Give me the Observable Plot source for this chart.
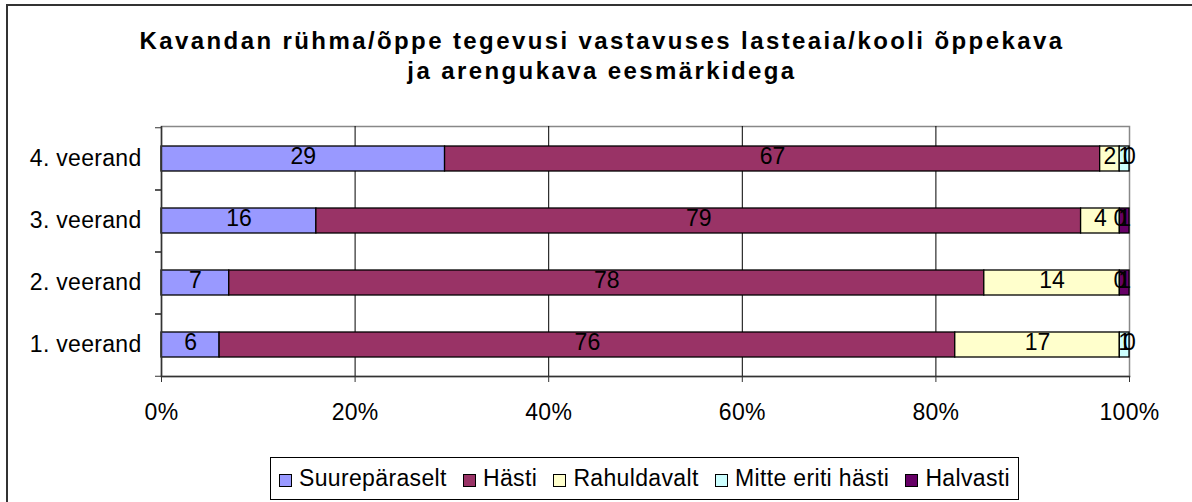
<!DOCTYPE html>
<html>
<head>
<meta charset="utf-8">
<script src="https://cdn.jsdelivr.net/npm/d3@7"></script>
<script src="https://cdn.jsdelivr.net/npm/@observablehq/plot@0.6"></script>
<style>
  body { margin: 0; background: #fff; }
  #wrap { position: relative; width: 1192px; height: 502px; overflow: hidden; font-family: "Liberation Sans", Arial, sans-serif; background: #fff; }
  #border { position: absolute; left: 6px; top: 4px; width: 1220px; height: 530px; border: 2px solid #333; box-sizing: border-box; }
  #title { position: absolute; left: 6px; width: 1192px; top: 26px; text-align: center; font-weight: bold; font-size: 24px; letter-spacing: 2.4px; line-height: 30px; color: #000; }
  #chart { position: absolute; left: 0; top: 0; }
  #chart svg g[aria-label="y-axis tick label"] text { letter-spacing: 0.3px; }
  #chart svg g[aria-label="x-axis tick label"] text { letter-spacing: 0.3px; }
  #legend { position: absolute; left: 270px; top: 457px; width: 749px; height: 43px; border: 1px solid #000; box-sizing: border-box; display: flex; align-items: center; justify-content: space-between; padding: 0 8px 0 8px; font-size: 23px; letter-spacing: 0.35px; background: #fff; }
  .item { display: flex; align-items: center; white-space: nowrap; }
  .sw { width: 11px; height: 11px; border: 1.5px solid #000; margin-right: 7px; margin-top: 3px; }
</style>
</head>
<body>
<div id="wrap">
  <div id="border"></div>
  <div id="title">Kavandan rühma/õppe tegevusi vastavuses lasteaia/kooli õppekava<br>ja arengukava eesmärkidega</div>
  <div id="chart"></div>
  <div id="legend"></div>
</div>
<script>
const quarters = ["4. veerand", "3. veerand", "2. veerand", "1. veerand"];
const categories = ["Suurepäraselt", "Hästi", "Rahuldavalt", "Mitte eriti hästi", "Halvasti"];
const colors = ["#9999FF", "#993366", "#FFFFCC", "#CCFFFF", "#660066"];

const suureparaselt = [29, 16, 7, 6];
const hasti = [67, 79, 78, 76];
const rahuldavalt = [2, 4, 14, 17];
const mitteEritiHasti = [1, 0, 0, 1];
const halvasti = [0, 1, 1, 0];

const xTicks = [0, 0.2, 0.4, 0.6, 0.8, 1];
const gridTicks = [0.2, 0.4, 0.6, 0.8];

const series = [suureparaselt, hasti, rahuldavalt, mitteEritiHasti, halvasti];
const data = [];
quarters.forEach((q, qi) => {
  categories.forEach((c, ci) => {
    data.push({quarter: q, cat: c, value: series[ci][qi]});
  });
});

const stackOpts = {offset: "normalize", x: "value", y: "quarter", z: "cat"};
const halfStep = 250 / quarters.length / 2;

const plot = Plot.plot({
  width: 1192,
  height: 502,
  marginLeft: 161,
  marginRight: 63,
  marginTop: 126,
  marginBottom: 126,
  style: {fontFamily: "'Liberation Sans', Arial, sans-serif", background: "transparent", color: "#000"},
  x: {domain: [0, 1]},
  y: {domain: quarters, paddingInner: 0.6, paddingOuter: 0.3},
  color: {domain: categories, range: colors},
  marks: [
    Plot.frame({stroke: "#888", strokeWidth: 1.5}),
    Plot.gridX(gridTicks, {stroke: "#000", strokeOpacity: 1, strokeWidth: 1}),
    Plot.barX(data, Plot.stackX({...stackOpts, fill: "cat", stroke: "#000", strokeWidth: 1.3})),
    Plot.text(data, Plot.stackX({...stackOpts, text: d => String(d.value), fill: "#000", fontSize: 23, dy: -2})),
    Plot.ruleX([0], {stroke: "#333", strokeWidth: 1.5}),
    Plot.frame({anchor: "bottom", stroke: "#333", strokeWidth: 1.5}),
    Plot.axisX({ticks: xTicks, tickFormat: d3.format(".0%"), tickSize: 6, tickPadding: 21, fontSize: 23, stroke: "#333", label: null}),
    Plot.axisY({tickSize: 6, dy: -halfStep, text: null, stroke: "#333", label: null}),
    Plot.axisY({tickSize: 6, dy: halfStep, text: null, stroke: "#333", label: null}),
    Plot.axisY({tickSize: 0, tickPadding: 20, fontSize: 23, label: null})
  ]
});
document.getElementById("chart").appendChild(plot);

const legend = document.getElementById("legend");
categories.forEach((c, i) => {
  const item = document.createElement("div");
  item.className = "item";
  const sw = document.createElement("div");
  sw.className = "sw";
  sw.style.background = colors[i];
  const t = document.createElement("span");
  t.textContent = c;
  item.appendChild(sw);
  item.appendChild(t);
  legend.appendChild(item);
});
</script>
</body>
</html>
